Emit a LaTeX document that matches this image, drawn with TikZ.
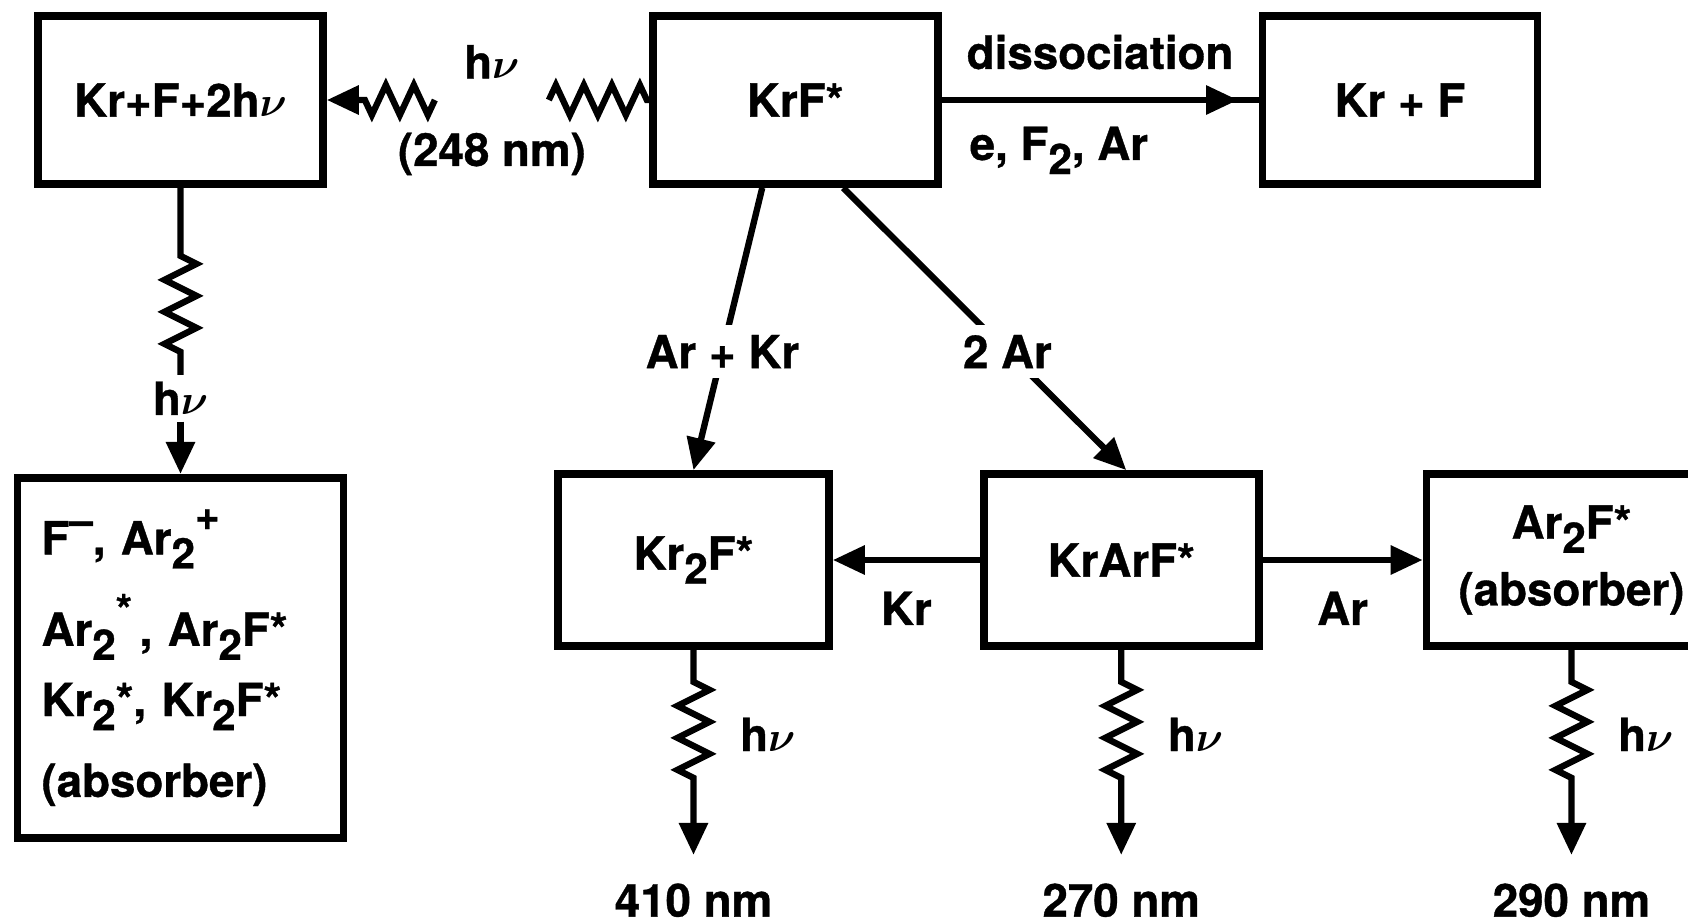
\documentclass[tikz,border=0pt]{standalone}
\usepackage{fontspec}
\setmainfont{TeX Gyre Heros}[BoldFeatures={FakeBold=0.8}]
\usepackage{amsmath,bm}
\usepackage{tikz}
\usetikzlibrary{arrows.meta,positioning,calc,decorations.pathmorphing,decorations.markings}
\newcommand{\boxfont}{\bfseries\fontsize{13}{15}\selectfont}
\newcommand{\dnsc}[1]{\raisebox{-4pt}{\fontsize{12}{12}\selectfont #1}}
\newcommand{\upsc}[2][4.5pt]{\raisebox{#1}{\fontsize{12}{12}\selectfont #2}}
\newcommand{\hnu}{h$\bm{\nu}$}

\begin{document}
\begin{tikzpicture}[node distance=1.5cm, line width=1.8pt, >={Triangle[length=0.32cm,width=0.28cm]}]
  \tikzstyle{box}=[draw, line width=2.2pt, minimum height=1.68cm, font=\boxfont]
  \tikzstyle{lbl}=[font=\boxfont, inner sep=1pt]
  \tikzstyle{zzv}=[decoration={zigzag, segment length=0.32cm, amplitude=0.16cm}]
  \tikzstyle{zzh}=[decoration={zigzag, segment length=0.28cm, amplitude=0.15cm}]
  \useasboundingbox (0,0) rectangle (16.88,-9.23);
  % top row
  \node[box, minimum width=2.85cm] (kfh) at (1.805,-1.0) {Kr+F+2\hnu};
  \node[box, minimum width=2.85cm, right=3.22cm of kfh] (krf) {KrF*};
  \node[box, minimum width=2.75cm, right=3.17cm of krf] (krpf) {Kr + F};
  % absorbers on the left
  \node[box, minimum width=3.26cm, minimum height=3.6cm, text width=2.78cm, inner xsep=0.2cm, align=left,
        font=\bfseries\fontsize{13}{20}\selectfont, below=2.86cm of kfh] (abs)
       {F\upsc[5.6pt]{--}, Ar\dnsc{2}\upsc[7pt]{+}\\[6pt]
        Ar\dnsc{2}\upsc[6pt]{*}\,, Ar\dnsc{2}F*\\
        Kr\dnsc{2}*, Kr\dnsc{2}F*\\[3pt]
        (absorber)};
  % excimers
  \node[box, minimum width=2.71cm, minimum height=1.72cm] (krtf) at (6.935,-5.6) {Kr\dnsc{2}F*};
  \node[box, minimum width=2.75cm, minimum height=1.72cm, right=1.47cm of krtf] (krarf) {KrArF*};
  \node[box, minimum width=2.9cm, minimum height=1.72cm, align=center, font=\bfseries\fontsize{13}{19}\selectfont,
        right=1.6cm of krarf] (artf) {Ar\dnsc{2}F*\\(absorber)};

  % 248 nm photon
  \coordinate (pl) at ($(kfh.east)+(1.08,0)$);
  \coordinate (pr) at ($(krf.west)+(-1.0,0)$);
  \draw[->] (pl) decorate[zzh]{-- ++(-0.72,0)} -- (kfh.east);
  \draw (pr) decorate[zzh]{-- (krf.west)};
  \path (pl) -- node[lbl, above=0.15cm] (hnutop) {\hnu} node[lbl, below=0.26cm] (nm248) {(248 nm)} (pr);

  \draw (kfh.south) -- ++(0,-0.68) decorate[zzv]{-- ++(0,-1.09)} -- ++(0,-0.1) coordinate (zw);
  \node[lbl, below=0.0cm of zw] (hnul) {\hnu};
  \draw[->] (hnul) -- (hnul |- abs.north);

  % dissociation
  \draw[postaction={decorate}, decoration={markings, mark=at position 0.935 with {\arrow{>}}}]
    (krf.east) -- node[lbl, above=0.24cm] (diss) {dissociation}
                  node[lbl, below=0.2cm, pos=0.37] (coll) {e, F\dnsc{2}, Ar} (krpf.west);

  % three-body collisions
  \draw[->] ([xshift=-0.33cm]krf.south) -- node[lbl, fill=white, inner sep=0.1cm, pos=0.58] (arkr) {Ar + Kr} (krtf.north);
  \draw[->] ([xshift=0.48cm]krf.south) -- node[lbl, fill=white, inner sep=0.1cm, pos=0.58] (twoar) {2 Ar} ([xshift=0.05cm]krarf.north);
  \draw[->] (krarf.west) -- node[lbl, below=0.25cm] (kr) {Kr} (krtf.east);
  \draw[->] (krarf.east) -- node[lbl, below=0.25cm] (ar) {Ar} (artf.west);

  % emission
  \foreach \src/\wl in {krtf/410, krarf/270, artf/290} {
    \node[lbl, below=2.27cm of \src] (w\wl) {\wl\ nm};
    \draw[->, shorten >=0.22cm] (\src.south) -- ++(0,-0.32) coordinate (za\wl)
      decorate[zzv]{-- ++(0,-1.05)} coordinate (zb\wl) -- (w\wl);
    \node[lbl, right=0.4cm] (h\wl) at ($(za\wl)!0.5!(zb\wl)$) {\hnu};
  }
\end{tikzpicture}
\end{document}
